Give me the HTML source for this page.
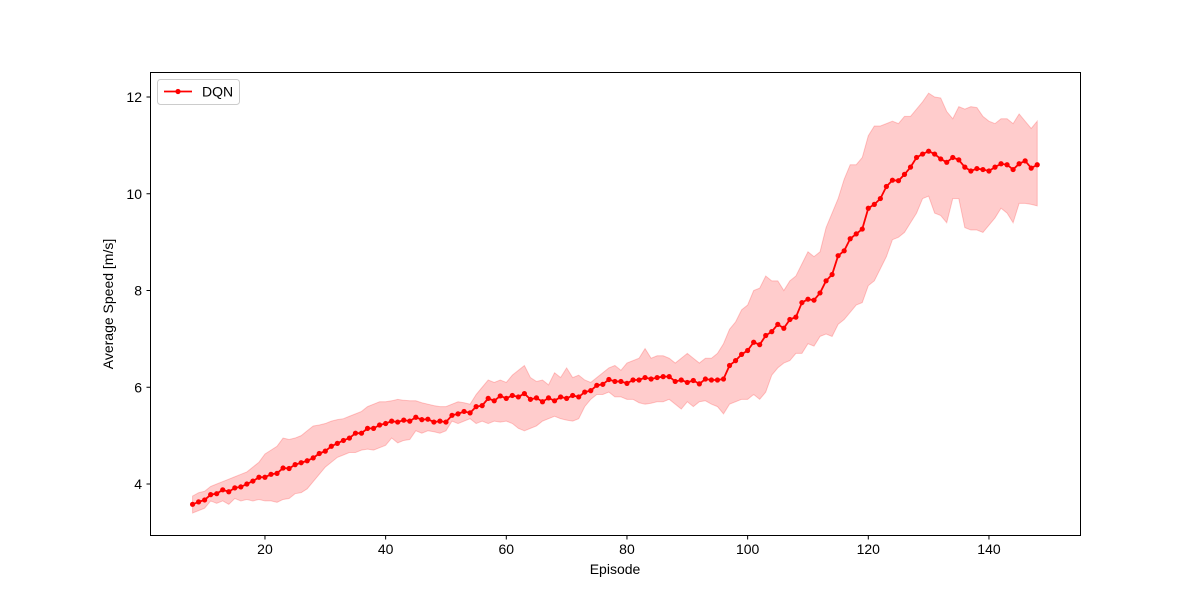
<!DOCTYPE html>
<html><head><meta charset="utf-8"><style>
body{margin:0;background:#fff}
svg{display:block;font-family:"Liberation Sans","DejaVu Sans",sans-serif}
</style></head><body>
<svg id="chart" width="1200" height="600" viewBox="0 0 1200 600">
<rect x="0" y="0" width="1200" height="600" fill="#fff"/>
<g id="band"></g><g id="line"></g>
<rect x="150.5" y="72.5" width="930" height="463" fill="none" stroke="#000" stroke-width="1"/>
<g id="xticks"></g><g id="yticks"></g>
<text x="615" y="574" font-size="14" text-anchor="middle">Episode</text>
<text transform="translate(113,304) rotate(-90)" font-size="14" text-anchor="middle">Average Speed [m/s]</text>
<g>
<rect x="157.5" y="79.5" width="82" height="25" rx="3" fill="#fff" stroke="#ccc"/>
<line x1="164" y1="91.5" x2="192" y2="91.5" stroke="#f00" stroke-width="1.8"/>
<circle cx="178" cy="91.5" r="2.6" fill="#f00"/>
<text x="202" y="96.5" font-size="14">DQN</text>
</g>
</svg>
<script>
const startEpisode = 8;
const meanSpeed = [3.58,3.63,3.67,3.78,3.8,3.88,3.84,3.92,3.94,4.0,4.06,4.14,4.14,4.2,4.22,4.33,4.32,4.4,4.44,4.48,4.54,4.63,4.68,4.78,4.84,4.9,4.95,5.05,5.05,5.15,5.15,5.22,5.25,5.3,5.28,5.32,5.3,5.38,5.33,5.34,5.28,5.3,5.28,5.42,5.45,5.5,5.47,5.6,5.62,5.77,5.72,5.82,5.77,5.83,5.8,5.87,5.75,5.78,5.7,5.78,5.72,5.8,5.77,5.83,5.8,5.9,5.93,6.04,6.06,6.16,6.12,6.12,6.08,6.15,6.15,6.2,6.17,6.2,6.22,6.22,6.12,6.15,6.1,6.14,6.07,6.17,6.15,6.15,6.17,6.45,6.55,6.68,6.76,6.93,6.88,7.07,7.15,7.3,7.22,7.4,7.45,7.75,7.82,7.8,7.95,8.2,8.33,8.72,8.82,9.07,9.17,9.27,9.7,9.78,9.9,10.15,10.28,10.27,10.4,10.55,10.75,10.82,10.88,10.82,10.72,10.65,10.75,10.7,10.55,10.47,10.52,10.5,10.47,10.55,10.62,10.6,10.5,10.62,10.68,10.53,10.6];
const upperSpeed = [3.75,3.82,3.85,3.95,4.0,4.05,4.1,4.15,4.2,4.25,4.35,4.45,4.62,4.7,4.78,4.95,4.92,4.95,5.0,5.1,5.2,5.22,5.25,5.3,5.33,5.35,5.4,5.45,5.5,5.6,5.65,5.7,5.7,5.72,5.75,5.73,5.72,5.72,5.68,5.65,5.62,5.6,5.6,5.65,5.7,5.68,5.65,5.85,6.0,6.15,6.1,6.15,6.1,6.25,6.35,6.45,6.2,6.12,6.15,6.05,6.3,6.2,6.4,6.2,6.25,6.15,6.1,6.2,6.3,6.4,6.45,6.35,6.5,6.55,6.6,6.8,6.6,6.65,6.65,6.6,6.5,6.6,6.7,6.6,6.5,6.6,6.6,6.7,6.9,7.2,7.35,7.6,7.7,8.0,8.05,8.3,8.2,8.2,8.0,8.2,8.3,8.55,8.8,8.7,8.8,9.3,9.6,9.9,10.3,10.6,10.6,10.75,11.2,11.4,11.4,11.45,11.5,11.45,11.6,11.6,11.75,11.9,12.08,12.0,11.98,11.7,11.55,11.8,11.75,11.8,11.78,11.6,11.5,11.45,11.55,11.55,11.45,11.65,11.5,11.35,11.5];
const lowerSpeed = [3.4,3.45,3.5,3.65,3.6,3.65,3.58,3.7,3.65,3.68,3.65,3.68,3.65,3.65,3.62,3.68,3.7,3.8,3.82,3.9,4.05,4.2,4.35,4.45,4.55,4.6,4.65,4.65,4.7,4.72,4.7,4.75,4.8,4.95,4.85,4.9,4.92,5.1,5.05,5.1,5.08,5.05,5.1,5.3,5.25,5.3,5.35,5.25,5.3,5.25,5.3,5.28,5.3,5.25,5.15,5.1,5.15,5.2,5.3,5.35,5.4,5.35,5.32,5.3,5.35,5.6,5.75,5.85,5.85,5.9,5.8,5.8,5.75,5.75,5.68,5.65,5.67,5.7,5.7,5.75,5.65,5.55,5.7,5.6,5.7,5.72,5.65,5.6,5.45,5.65,5.7,5.75,5.75,5.85,5.75,5.9,6.25,6.4,6.5,6.55,6.7,6.7,6.9,6.85,7.05,7.1,7.05,7.3,7.4,7.55,7.7,7.75,8.1,8.2,8.45,8.7,9.05,9.1,9.2,9.4,9.6,9.9,9.95,9.6,9.55,9.4,9.9,9.9,9.3,9.25,9.25,9.2,9.35,9.5,9.7,9.6,9.4,9.8,9.8,9.78,9.75];
const xTickValues = [20,40,60,80,100,120,140];
const yTickValues = [4,6,8,10,12];

const NS='http://www.w3.org/2000/svg';
const xs = v => 144.3 + v*6.0333;
const ys = v => 677.5 - v*48.375;
function mk(tag, attrs, parent){const e=document.createElementNS(NS,tag);for(const k in attrs)e.setAttribute(k,attrs[k]);parent.appendChild(e);return e;}
const episodes = meanSpeed.map((_,i)=>startEpisode+i);

let d = episodes.map((e,i)=>(i?'L':'M')+xs(e).toFixed(2)+','+ys(upperSpeed[i]).toFixed(2)).join('');
for(let i=episodes.length-1;i>=0;i--) d+='L'+xs(episodes[i]).toFixed(2)+','+ys(lowerSpeed[i]).toFixed(2);
const band = mk('path',{d:d+'Z',fill:'rgba(255,0,0,0.2)',stroke:'rgba(255,0,0,0.2)','stroke-width':1},document.getElementById('band'));



const lg = document.getElementById('line');
const pl = mk('polyline',{points:episodes.map((e,i)=>xs(e).toFixed(2)+','+ys(meanSpeed[i]).toFixed(2)).join(' '),fill:'none',stroke:'#f00','stroke-width':1.8,'stroke-linejoin':'round'},lg);


episodes.forEach((e,i)=>{
  const c = mk('circle',{cx:xs(e),cy:ys(meanSpeed[i]),r:2.6,fill:'#f00'},lg);
  
  
});

const xg = document.getElementById('xticks');
xTickValues.forEach(v=>{
  const x=xs(v);
  mk('line',{x1:x,y1:535.5,x2:x,y2:539.5,stroke:'#000'},xg);
  const t = mk('text',{x:x,y:554,'font-size':14,'text-anchor':'middle'},xg);
  t.textContent=v;
  
  
});
const yg = document.getElementById('yticks');
yTickValues.forEach(v=>{
  const y=ys(v);
  mk('line',{x1:146.5,y1:y,x2:150.5,y2:y,stroke:'#000'},yg);
  const t = mk('text',{x:142,y:y+5,'font-size':14,'text-anchor':'end'},yg);
  t.textContent=v;
  
  
});
</script>
</body></html>
